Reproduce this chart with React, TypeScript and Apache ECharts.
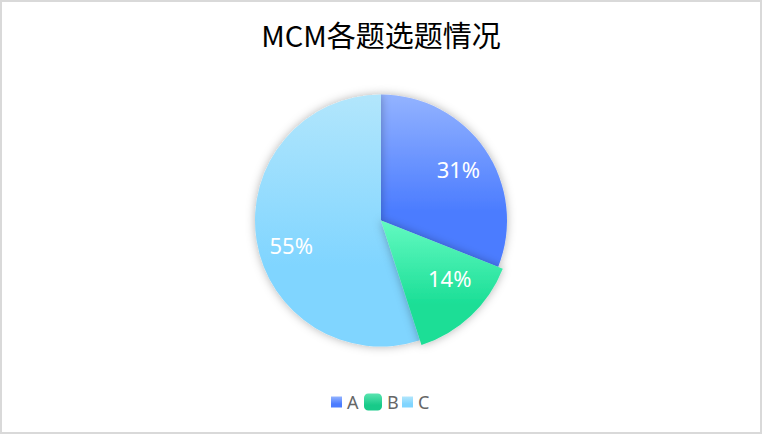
import { useEffect, useRef } from 'react'
import * as echarts from 'echarts'

// 数据
const categories = ['A', 'B', 'C']
const values = [31, 14, 55]
const topColors = ['#93b3ff', '#5ae4b0', '#b2e6fc']
const bottomColors = ['#4b7cff', '#18ca89', '#80d5ff']
const chartTitle = 'MCM各题选题情况'

const App: React.FC = () => {
  const chartRef = useRef<HTMLDivElement | null>(null)

  useEffect(() => {
    if (chartRef.current === null) return
    const chart = echarts.init(chartRef.current, undefined, { renderer: 'svg' })

    const pieData = categories.map((name, i) => ({
      name,
      value: values[i],
      itemStyle: {
        color: new echarts.graphic.LinearGradient(0, 0, 0, 1, [
          { offset: 0, color: topColors[i] },
          { offset: 0.68, color: bottomColors[i] },
          { offset: 1, color: bottomColors[i] }
        ])
      }
    }))

    // 标签微调
    const labelOffsets: Record<string, number[]> = { A: [-2, 2], B: [3, -12], C: [5, 9] }

    const legendText = { color: '#666', fontSize: 18, fontFamily: 'Noto Sans' }
    const legendBase = { orient: 'horizontal', padding: 0, itemGap: 0, textStyle: legendText }

    chart.setOption({
      animation: false,
      title: {
        text: chartTitle,
        left: 'center',
        top: 12,
        textStyle: { color: '#000', fontSize: 29, fontWeight: 'normal', fontFamily: 'Noto Sans CJK SC' }
      },
      legend: [
        { ...legendBase, data: ['A'], left: 329, top: 391, itemWidth: 11, itemHeight: 11, icon: 'rect' },
        { ...legendBase, data: ['B'], left: 362, top: 391, itemWidth: 18, itemHeight: 17, icon: 'roundRect' },
        { ...legendBase, data: ['C'], left: 400, top: 391, itemWidth: 11, itemHeight: 11, icon: 'rect' }
      ],
      series: [
        {
          type: 'pie',
          center: ['50%', 218.5],
          radius: 126,
          startAngle: 90,
          clockwise: true,
          label: { show: false },
          labelLine: { show: false },
          itemStyle: { shadowBlur: 10, shadowColor: 'rgba(0,0,0,0.3)' },
          emphasis: {
            scale: true,
            scaleSize: 5,
            focus: 'none',
            label: { show: false },
            itemStyle: { shadowBlur: 10, shadowColor: 'rgba(0,0,0,0.3)' }
          },
          data: pieData
        },
        {
          // 仅用于显示标签
          type: 'pie',
          silent: true,
          legendHoverLink: false,
          center: ['50%', 218.5],
          radius: 186,
          startAngle: 90,
          z: 5,
          itemStyle: { color: 'rgba(0,0,0,0)' },
          labelLine: { show: false },
          label: {
            show: true,
            position: 'inside',
            color: '#fff',
            fontSize: 22,
            fontFamily: 'Noto Sans',
            formatter: (p: any) => Math.round(p.percent) + '%'
          },
          emphasis: { disabled: true },
          data: categories.map((name, i) => ({ name, value: values[i], label: { offset: labelOffsets[name] } }))
        }
      ]
    })

    chart.dispatchAction({ type: 'highlight', seriesIndex: 0, dataIndex: 1 })

    return () => {
      chart.dispose()
    }
  }, [])

  return (
    <div
      style={{
        position: 'fixed',
        left: 0,
        top: 0,
        width: 762,
        height: 434,
        boxSizing: 'border-box',
        border: '2px solid #d9d9d9',
        background: '#fff'
      }}
    >
      <div ref={chartRef} style={{ width: '100%', height: '100%' }}></div>
    </div>
  )
}

export default App
